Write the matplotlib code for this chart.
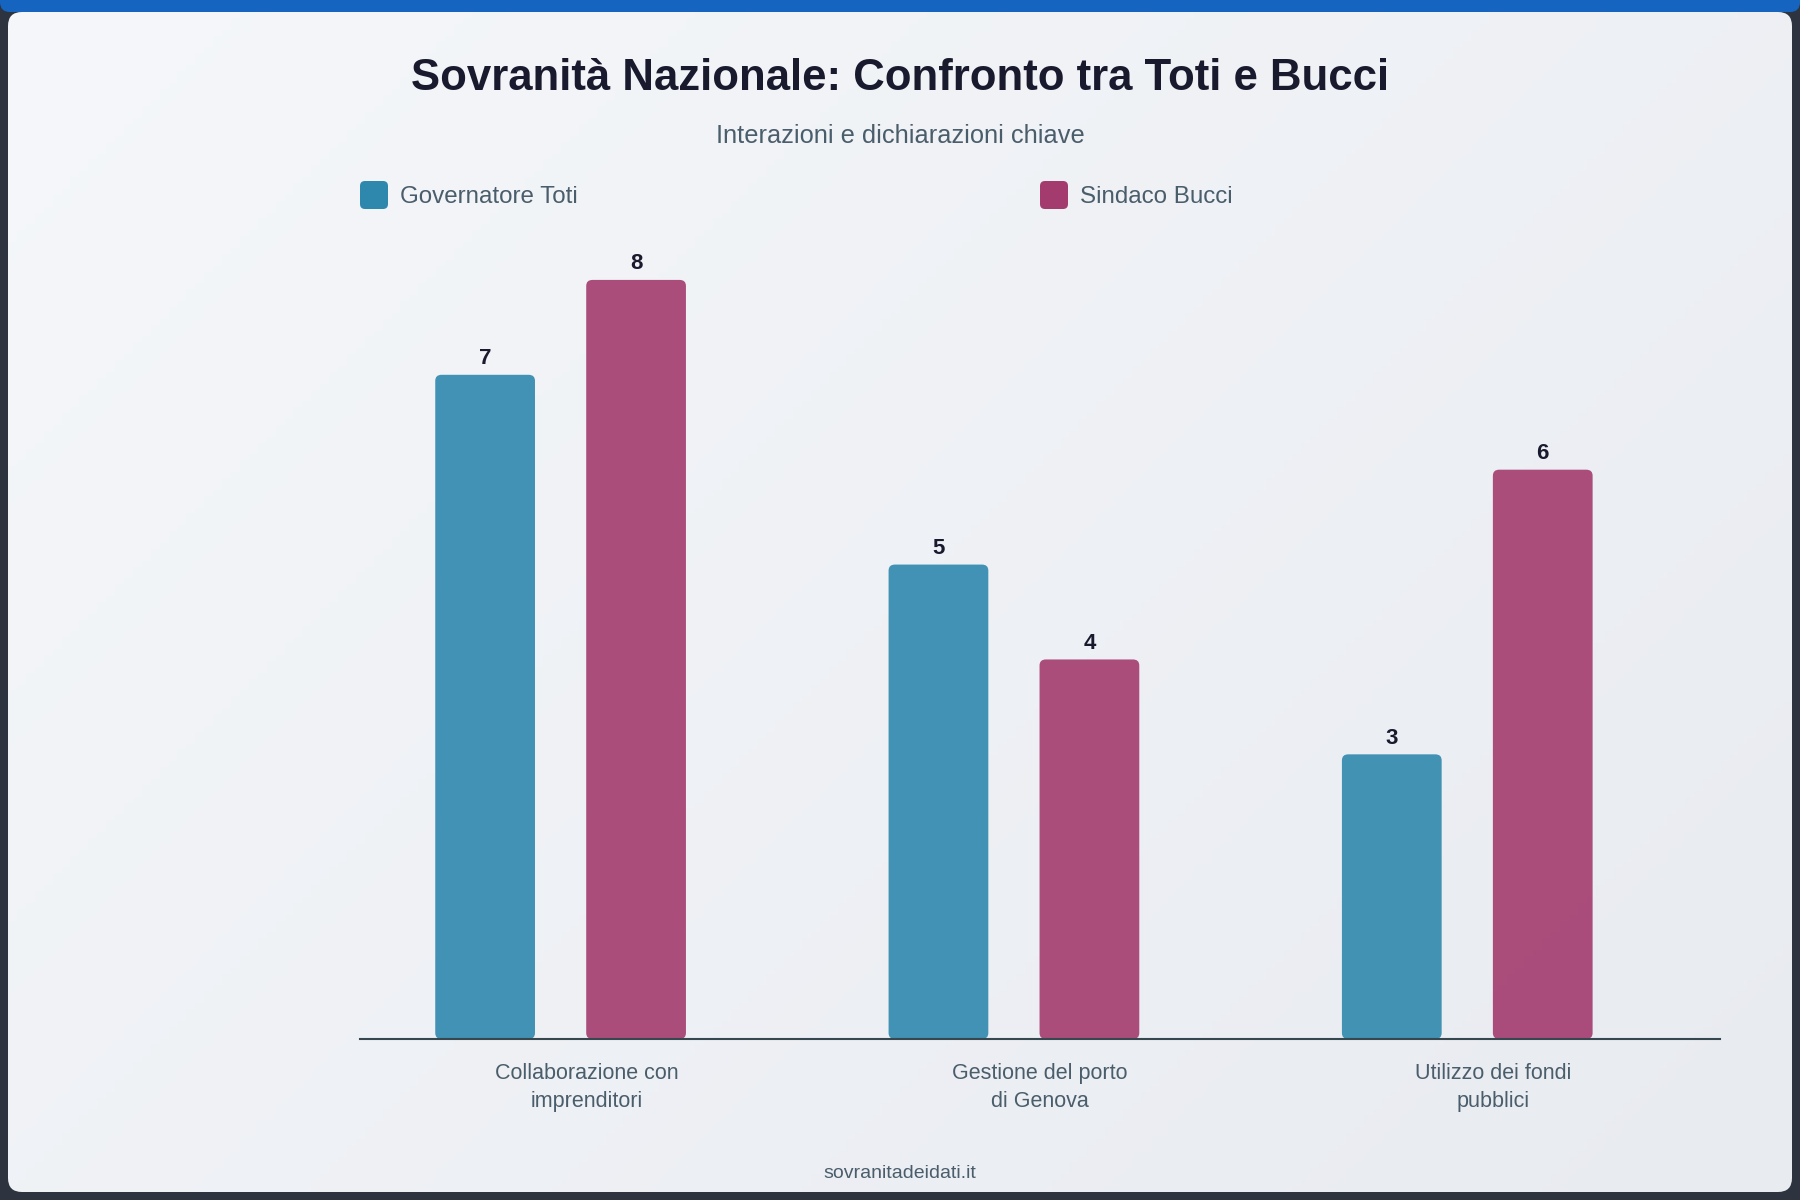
import numpy as np
import matplotlib
matplotlib.use("Agg")
import matplotlib.pyplot as plt
from matplotlib.patches import FancyBboxPatch

categories = ["Collaborazione con\nimprenditori", "Gestione del porto\ndi Genova", "Utilizzo dei fondi\npubblici"]
toti = [7, 5, 3]
bucci = [8, 4, 6]
series_names = ["Governatore Toti", "Sindaco Bucci"]

plt.rcParams['font.family'] = ['Liberation Sans', 'DejaVu Sans']

W, H = 1800, 1200
fig = plt.figure(figsize=(18, 12), dpi=100)
fig.patch.set_facecolor('#2d3440')

# background card (pixel coordinates)
bg = fig.add_axes([0, 0, 1, 1])
bg.set_xlim(0, W)
bg.set_ylim(H, 0)
bg.axis('off')

top_bar = FancyBboxPatch((0, -20), W, 32, boxstyle="round,pad=0,rounding_size=10",
                         facecolor='#1565c0', edgecolor='none')
bg.add_patch(top_bar)

card = FancyBboxPatch((8, 12), W - 16, 1180, boxstyle="round,pad=0,rounding_size=14",
                      facecolor='none', edgecolor='none')
bg.add_patch(card)
gx, gy = np.meshgrid(np.linspace(0, 1, 200), np.linspace(0, 1, 200))
t = (gx * 0.6 + gy * 0.4)
c0 = np.array([0xf5, 0xf7, 0xfa]) / 255
c1 = np.array([0xe8, 0xeb, 0xf0]) / 255
img = c0[None, None, :] * (1 - t[..., None]) + c1[None, None, :] * t[..., None]
im = bg.imshow(img, extent=[8, W - 8, 1192, 12], aspect='auto', zorder=0)
im.set_clip_path(card)

# title, subtitle
fig.text(0.5, 1 - 79 / H, "Sovranità Nazionale: Confronto tra Toti e Bucci", ha='center', va='center',
         fontsize=31.5, fontweight='bold', color='#1a1a2e')
fig.text(0.5, 1 - 136 / H, "Interazioni e dichiarazioni chiave", ha='center', va='center',
         fontsize=18.3, color='#4a5d6b')

# legend
toti_c = '#2e88ad'
bucci_c = '#a33b6e'
for (lx, name, col) in [(360, series_names[0], toti_c), (1040, series_names[1], bucci_c)]:
    bg.add_patch(FancyBboxPatch((lx, 181), 28, 28, boxstyle="round,pad=0,rounding_size=5",
                                facecolor=col, edgecolor='none'))
    bg.text(lx + 40, 197, name, ha='left', va='center', fontsize=17.4, color='#4a5d6b')

# footer
fig.text(0.5, 1 - 1174 / H, "sovranitadeidati.it", ha='center', va='center',
         fontsize=14, color='#4a5d6b')

# main chart
ax = fig.add_axes([360 / W, 1 - 1039 / H, 1360 / W, (1039 - 204) / H])
ax.patch.set_alpha(0)
x = np.arange(len(categories))
bw = 0.22
b1 = ax.bar(x - 0.224, toti, bw, color=toti_c, alpha=0.9)
b2 = ax.bar(x + 0.109, bucci, bw, color=bucci_c, alpha=0.9)
ax.set_xlim(-0.5, 2.5)
ax.set_ylim(0, 8.8)

# rounded bars
r = 0.014
asp = (6 / (835 / 8.8)) / r
for bars in (b1, b2):
    for b in bars:
        b.set_visible(False)
        p = FancyBboxPatch((b.get_x(), b.get_y()), b.get_width(), b.get_height(),
                           boxstyle=f"round,pad=0,rounding_size={r}", mutation_aspect=asp,
                           facecolor=b.get_facecolor(), edgecolor='none', zorder=2)
        ax.add_patch(p)
        ax.annotate(f"{int(b.get_height())}", (b.get_x() + b.get_width() / 2, b.get_height()),
                    xytext=(0, 4), textcoords='offset points', ha='center', va='bottom',
                    fontsize=16, fontweight='bold', color='#1a1a2e')

for s in ['top', 'right', 'left']:
    ax.spines[s].set_visible(False)
ax.spines['bottom'].set_color('#37474f')
ax.spines['bottom'].set_linewidth(1.5)
ax.spines['bottom'].set_zorder(3)
ax.set_yticks([])
ax.set_xticks(x)
ax.set_xticklabels(categories, fontsize=15.5, color='#4a5d6b', linespacing=1.45)
ax.tick_params(axis='x', length=0, pad=17)

fig.savefig('out.png', dpi=100, facecolor=fig.get_facecolor())
